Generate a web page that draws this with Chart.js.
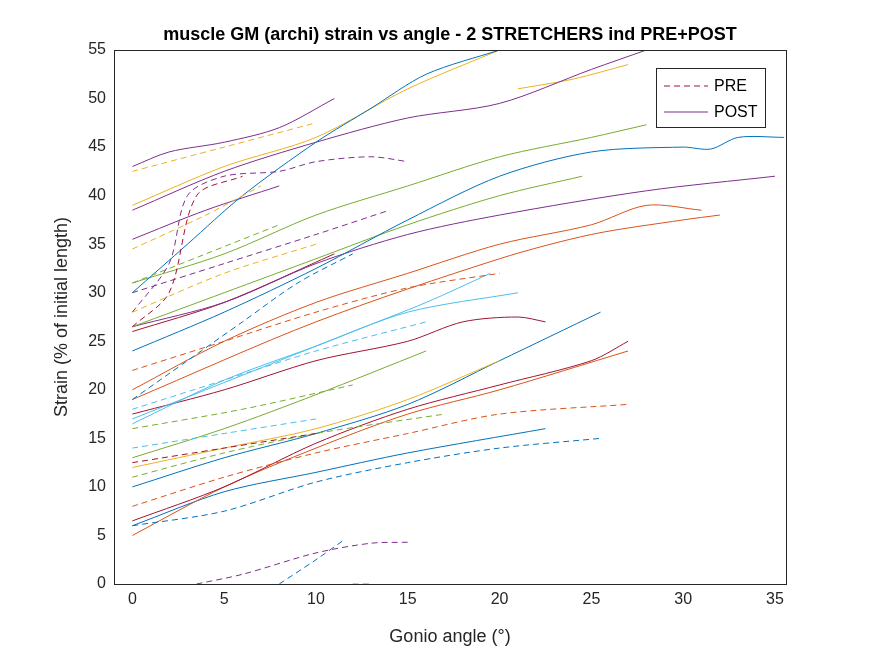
<!DOCTYPE html>
<html><head><meta charset="utf-8">
<script src="https://cdn.jsdelivr.net/npm/chart.js@4"></script>
<style>html,body{margin:0;background:#fff}#wrap{width:875px;height:656px}</style>
</head><body><div id="wrap"><canvas id="c"></canvas></div>
<script>
// MATLAB default line colours
const C = { blue:'#0072BD', orange:'#D95319', yellow:'#EDB120', purple:'#7E2F8E', green:'#77AC30', cyan:'#4DBEEE', red:'#A2142F' };

const xTicks = [0,5,10,15,20,25,30,35];
const yTicks = [0,5,10,15,20,25,30,35,40,45,50,55];

// POST (solid) curves: [colour, x values, y values]
const postSeries = [
  ['purple', [0,2,5,8,11], [43,44.5,45.5,47,50]],
  ['blue',   [0,3,6,10,13,16,20], [30,35,40,45.5,49,52.5,55]],
  ['yellow', [0,5,10,15,20], [39,43,46,51,55]],
  ['purple', [0,5,10,15,20,25,28], [38.5,42.5,45.5,48,49.5,53,55]],
  ['yellow', [21,24,27], [51,52,53.5]],
  ['green',  [0,5,10,15,20,25,28], [31,34,38,41,44,46,47.3]],
  ['blue',   [0,5,10,15,20,25,30,31.5,33,35.5], [24,28,32.5,37.5,42,44.5,45,44.8,46,46]],
  ['green',  [0,5,10,15,20,24.5], [26.5,30,33.5,37,40,42]],
  ['purple', [0,5,10,15,20,28,35], [26.5,29,33,36,38,40.5,42]],
  ['purple', [0,4,8], [35.5,38.5,41]],
  ['orange', [0,5,10,15,20,25,28,31], [20,25,29,32,35,37,39,38.5]],
  ['orange', [0,10,20,25,30,32], [19,27,33.5,36,37.5,38]],
  ['cyan',   [0,5,10,15,21], [16.5,21,24.5,28,30]],
  ['cyan',   [0,4,8,12,16,19.5], [17,20,23,26,29,32]],
  ['red',    [0,5,10,15,18,21,22.5], [17.5,20,23,25,27,27.5,27]],
  ['red',    [0,5,11], [26,29,34]],
  ['green',  [0,5,10,16], [13,16,19.5,24]],
  ['yellow', [0,5,10,15,20], [12,14,16,19,23]],
  ['blue',   [0,5,10,15,20,25.5], [10,13,15.5,18.5,23,28]],
  ['red',    [0,5,10,15,20,25,27], [6.5,10,14.5,18,20.5,23,25]],
  ['orange', [0,5,10,15,20,27], [5,10,14,17.5,20,24]],
  ['blue',   [0,5,10,15,22.5], [6,9.5,11.5,13.5,16]]
];

// PRE (dashed) curves
const preSeries = [
  ['yellow', [0,5,10], [42.5,45,47.5]],
  ['purple', [0,2,3,5,8,10,13,15], [28,33,40,42,42.5,43.5,44,43.5]],
  ['red',    [0,2,3.5,6], [26.5,30,40,42]],
  ['yellow', [0,4,7], [34.5,38,41]],
  ['green',  [0,4,8], [31,34,37]],
  ['purple', [0,5,10,14], [30,33,36,38.5]],
  ['yellow', [0,5,10], [28,32,35]],
  ['blue',   [0,3,6,9,12], [19,23,27,31,34]],
  ['orange', [0,5,10,15,20], [22,25,28,30.5,32]],
  ['cyan',   [0,5,10,16], [18,21,24,27]],
  ['green',  [0,6,12], [16,18,20.5]],
  ['cyan',   [0,5,10], [14,15.5,17]],
  ['red',    [0,5,10], [12.5,14,15.5]],
  ['orange', [0,5,10,15,20,27], [8,11,13.5,15.5,17.5,18.5]],
  ['green',  [0,5,10,17], [11,13.5,15.5,17.5]],
  ['blue',   [0,5,10,15,20,25.5], [6,7.5,10.5,12.5,14,15]],
  ['purple', [3.5,6,10,13,15], [0,1,3.2,4.2,4.3]],
  ['blue',   [8,10,11.5], [0,2.5,4.5]],
  ['green',  [12,13], [0,0]]
];

const mk = (s, dashed) => ({
  data: s[1].map((x, i) => ({ x, y: s[2][i] })),
  borderColor: C[s[0]], borderWidth: 1, borderDash: dashed ? [6,4] : [],
  showLine: true, pointRadius: 0, tension: 0.3, fill: false
});

const FONT = 'Arial, "Liberation Sans"';

const frame = {
  id: 'frame',
  afterDraw(ch) {
    const { ctx, chartArea: a } = ch;
    ctx.save();
    ctx.strokeStyle = '#262626'; ctx.lineWidth = 1;
    ctx.strokeRect(a.left + 0.5, a.top + 0.5, a.width, a.height);
    ctx.fillStyle = '#000'; ctx.font = 'bold 18px ' + FONT;
    ctx.textAlign = 'center'; ctx.textBaseline = 'alphabetic';
    ctx.fillText('muscle GM (archi) strain vs angle - 2 STRETCHERS ind PRE+POST', (a.left + a.right) / 2, 40);
    // axis titles
    ctx.fillStyle = '#262626'; ctx.font = '18px ' + FONT; ctx.textBaseline = 'middle';
    ctx.fillText('Gonio angle (°)', (a.left + a.right) / 2, 637);
    ctx.translate(62, (a.top + a.bottom) / 2); ctx.rotate(-Math.PI / 2);
    ctx.fillText('Strain (% of initial length)', 0, 0);
    ctx.setTransform(1, 0, 0, 1, 0, 0);
    ctx.scale(ch.currentDevicePixelRatio, ch.currentDevicePixelRatio);
    // legend
    const lx = 656, ly = 68;
    ctx.fillStyle = '#fff'; ctx.fillRect(lx, ly, 109, 59);
    ctx.strokeStyle = '#262626'; ctx.strokeRect(lx + 0.5, ly + 0.5, 109, 59);
    ctx.strokeStyle = C.red; ctx.setLineDash([6,4]);
    ctx.beginPath(); ctx.moveTo(lx + 8, 86); ctx.lineTo(lx + 52, 86); ctx.stroke();
    ctx.strokeStyle = C.purple; ctx.setLineDash([]);
    ctx.beginPath(); ctx.moveTo(lx + 8, 112); ctx.lineTo(lx + 52, 112); ctx.stroke();
    ctx.fillStyle = '#000'; ctx.font = '16px ' + FONT; ctx.textAlign = 'left';
    ctx.fillText('PRE', lx + 58, 87); ctx.fillText('POST', lx + 58, 113);
    ctx.restore();
  }
};

new Chart(document.getElementById('c'), {
  type: 'scatter',
  data: { datasets: [...preSeries.map(s => mk(s, true)), ...postSeries.map(s => mk(s, false))] },
  options: {
    responsive: true, maintainAspectRatio: false, animation: false,
    layout: { padding: { left: 0, top: 50, right: 89, bottom: 0 } },
    plugins: { legend: { display: false }, tooltip: { enabled: false } },
    scales: {
      x: {
        min: -1, max: 35.6,
        afterBuildTicks: s => { s.ticks = xTicks.map(v => ({ value: v })); },
        afterFit: s => { s.height = 72; },
        grid: { display: false, drawTicks: false },
        border: { display: false },
        ticks: { color: '#262626', font: { size: 16, family: FONT }, padding: 6, maxRotation: 0 }
      },
      y: {
        min: 0, max: 55,
        afterBuildTicks: s => { s.ticks = yTicks.map(v => ({ value: v })); },
        afterFit: s => { s.width = 114; },
        grid: { display: false, drawTicks: false },
        border: { display: false },
        ticks: { color: '#262626', font: { size: 16, family: FONT }, padding: 8 }
      }
    }
  },
  plugins: [frame]
});
</script></body></html>
